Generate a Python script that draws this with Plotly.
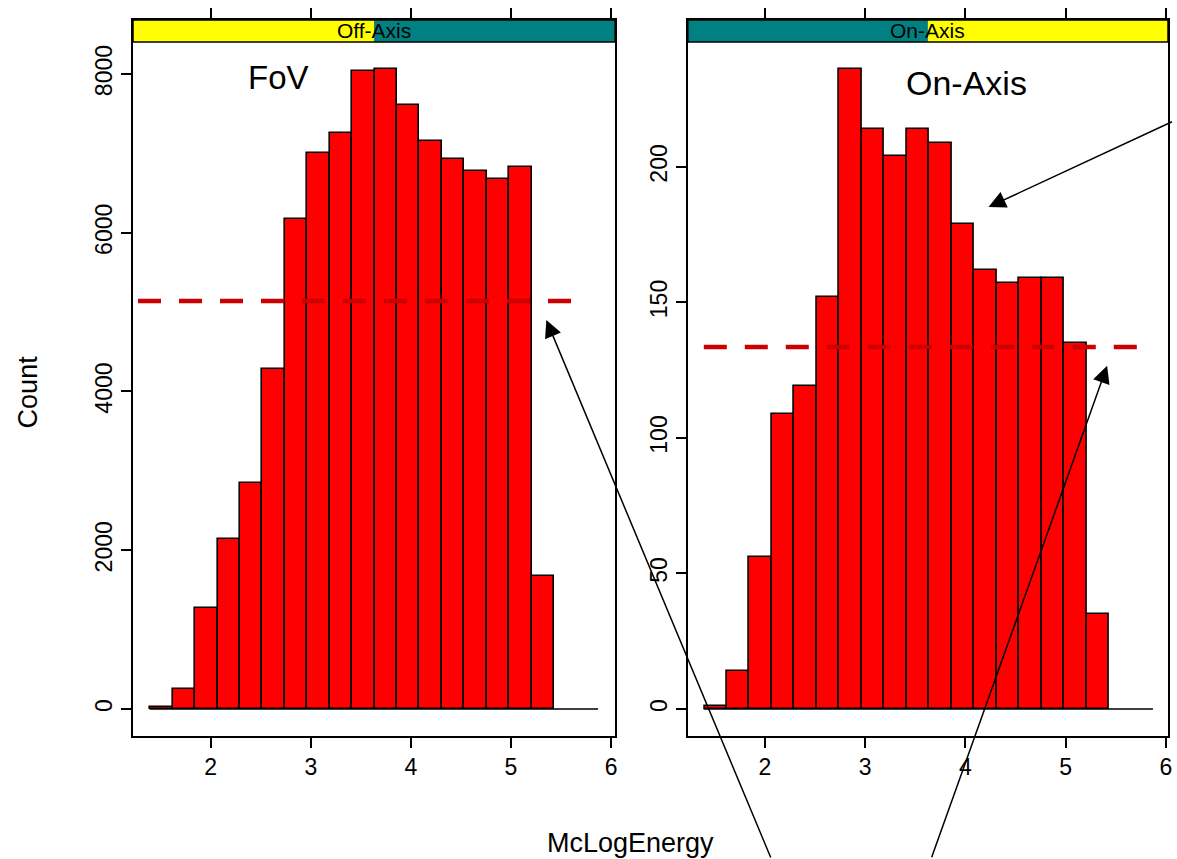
import numpy as np
import plotly.graph_objects as go

# ---- data ----
panel_names = ["Off-Axis", "On-Axis"]
bin_start = 1.397
bin_end = 5.43
n_bins = 18

off_axis_counts = [20, 252, 1276, 2142, 2847, 4283, 6173, 7005, 7257, 8038,
                   8063, 7609, 7156, 6929, 6778, 6677, 6828, 1672]
on_axis_counts = [1, 14, 56, 109, 119, 152, 236, 214, 204, 214,
                  209, 179, 162, 157, 159, 159, 135, 35]

off_axis_level = 5140      # dashed reference line, left panel
on_axis_level = 133.6      # dashed reference line, right panel
off_line_x = [1.274, 5.70]
on_line_x = [1.391, 5.80]
zero_line_x = [1.39, 5.87]

x_ticks = [2, 3, 4, 5, 6]
off_y_ticks = [0, 2000, 4000, 6000, 8000]
on_y_ticks = [0, 50, 100, 150, 200]

x_title = "McLogEnergy"
y_title = "Count"
label_left = "FoV"
label_right = "On-Axis"

# ---- figure ----
edges = np.linspace(bin_start, bin_end, n_bins + 1)
centers = (edges[:-1] + edges[1:]) / 2
width = edges[1] - edges[0]

FONT = "Liberation Sans, Arial, sans-serif"
RED = "#FF0000"
DASH_RED = "#CC0000"

fig = go.Figure()

for i, (counts, level, lx) in enumerate([(off_axis_counts, off_axis_level, off_line_x),
                                         (on_axis_counts, on_axis_level, on_line_x)]):
    xa = "x" if i == 0 else "x2"
    ya = "y" if i == 0 else "y2"
    fig.add_trace(go.Bar(x=centers, y=counts, width=width, xaxis=xa, yaxis=ya,
                         marker=dict(color=RED, line=dict(color="black", width=1.6)),
                         showlegend=False, hoverinfo="skip"))
    fig.add_trace(go.Scatter(x=zero_line_x, y=[0, 0], mode="lines", xaxis=xa, yaxis=ya,
                             line=dict(color="black", width=1.6), showlegend=False,
                             hoverinfo="skip"))
    fig.add_trace(go.Scatter(x=lx, y=[level, level], mode="lines", xaxis=xa, yaxis=ya,
                             line=dict(color=DASH_RED, width=4.5, dash="23px,18px"),
                             showlegend=False, hoverinfo="skip"))

axis_common = dict(showgrid=False, zeroline=False, showline=True, linecolor="black",
                   linewidth=1.5, ticks="outside", ticklen=10, tickwidth=1.5,
                   tickcolor="black", tickfont=dict(family=FONT, size=23, color="black"))

fig.update_layout(
    width=1177, height=859,
    margin=dict(l=133, r=5, t=20, b=123),
    paper_bgcolor="white", plot_bgcolor="white",
    bargap=0,
    xaxis=dict(domain=[0, 0.4658], range=[1.224, 6.04], tickvals=x_ticks,
               mirror="ticks", anchor="y", **axis_common),
    xaxis2=dict(domain=[0.5361, 1.0], range=[1.232, 6.02], tickvals=x_ticks,
                mirror="ticks", anchor="y2", **axis_common),
    yaxis=dict(domain=[0, 1], range=[-340, 8680], tickvals=off_y_ticks,
               mirror=True, anchor="x", tickangle=-90, **axis_common),
    yaxis2=dict(domain=[0, 1], range=[-9.96, 254.2], tickvals=on_y_ticks,
                mirror=True, anchor="x2", tickangle=-90, **axis_common),
)

# strips
strip_y0, strip_y1 = 0.9693, 1.0
shapes = []
strip_specs = [("x domain", ["#FFFF00", "#008080"]), ("x2 domain", ["#008080", "#FFFF00"])]
for xref, cols in strip_specs:
    shapes.append(dict(type="rect", xref=xref, yref="paper", x0=0, x1=0.5,
                       y0=strip_y0, y1=strip_y1, fillcolor=cols[0], line=dict(width=0),
                       layer="above"))
    shapes.append(dict(type="rect", xref=xref, yref="paper", x0=0.5, x1=1,
                       y0=strip_y0, y1=strip_y1, fillcolor=cols[1], line=dict(width=0),
                       layer="above"))
    shapes.append(dict(type="rect", xref=xref, yref="paper", x0=0, x1=1,
                       y0=strip_y0, y1=strip_y1, fillcolor="rgba(0,0,0,0)",
                       line=dict(color="black", width=1.5), layer="above"))
fig.update_layout(shapes=shapes)

ann = []
for xref, name in [("x domain", panel_names[0]), ("x2 domain", panel_names[1])]:
    ann.append(dict(text=name, xref=xref, yref="paper", x=0.5, y=(strip_y0 + strip_y1) / 2,
                    showarrow=False, font=dict(family=FONT, size=21, color="black"),
                    xanchor="center", yanchor="middle"))

ann.append(dict(text=label_left, xref="x", yref="y", x=2.677, y=7950, showarrow=False,
                font=dict(family=FONT, size=33, color="black"),
                xanchor="center", yanchor="middle"))
ann.append(dict(text=label_right, xref="x2", yref="y2", x=4.013, y=231, showarrow=False,
                font=dict(family=FONT, size=34, color="black"),
                xanchor="center", yanchor="middle"))

ann.append(dict(text=y_title, xref="paper", yref="paper", x=-0.1011, y=0.4804,
                textangle=-90, showarrow=False,
                font=dict(family=FONT, size=27, color="black"),
                xanchor="center", yanchor="middle"))
ann.append(dict(text=x_title, xref="paper", yref="paper", x=0.4803, y=-0.1494,
                showarrow=False, font=dict(family=FONT, size=27, color="black"),
                xanchor="center", yanchor="middle"))

arrow_style = dict(text="", showarrow=True, arrowhead=2, arrowsize=2.3, arrowwidth=1.5,
                   arrowcolor="black", standoff=0, startstandoff=0)
ann.append(dict(xref="x2", yref="y2", x=4.23, y=185.2, ax=185, ay=-86, **arrow_style))
ann.append(dict(xref="x", yref="y", x=5.353, y=4901, ax=225, ay=539, **arrow_style))
ann.append(dict(xref="x2", yref="y2", x=5.413, y=126.6, ax=-176, ay=493, **arrow_style))

fig.update_layout(annotations=ann)

fig.write_html(
    "out.html",
    config={"displayModeBar": False},
    post_script="document.body.style.margin='0';document.body.style.overflow='hidden';",
)
